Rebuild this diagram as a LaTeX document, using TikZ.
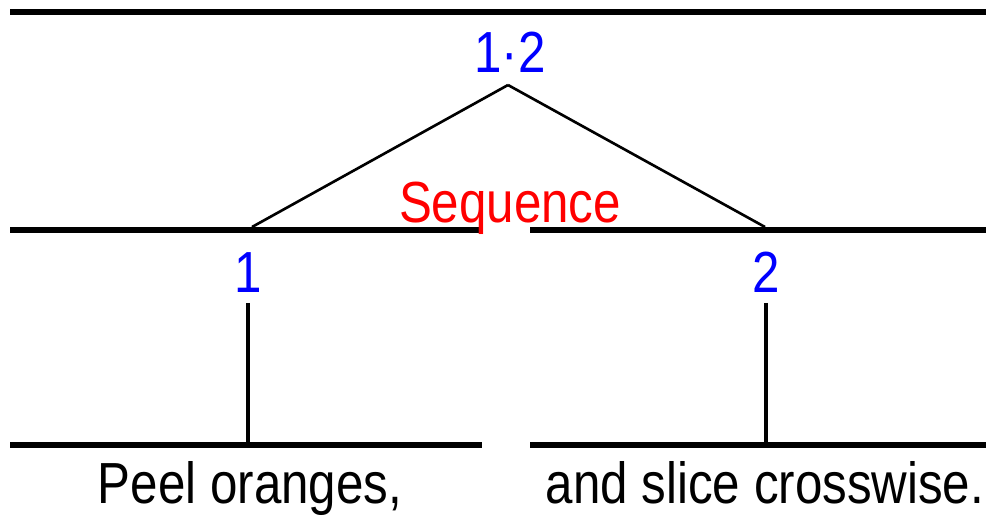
\documentclass[tikz,border=0pt]{standalone}
\usepackage{fontspec}
\setmainfont{Liberation Sans}
\newfontfamily\diafont[FakeStretch=0.85]{Liberation Sans}
\begin{document}
\begin{tikzpicture}[x=0.02cm, y=-0.02cm, line join=round,
  rule/.style={line width=2.9pt},
  arm/.style={line width=1.5pt},
  stem/.style={line width=1.8pt},
  lbl/.style={font=\diafont\fontsize{33}{33}\selectfont, inner sep=0pt, anchor=base}]
  \useasboundingbox (0,0) rectangle (986,515);
  % base lines
  \draw[rule] (10,12) -- (986,12);
  \draw[rule] (10,230) -- (480,230);
  \draw[rule] (530,230) -- (986,230);
  \draw[rule] (10,445) -- (482,445);
  \draw[rule] (530,445) -- (986,445);

  \node[lbl, text=blue] (top) at (510,72) {1·2};
  \node[lbl, text=red] (rel) at (510,222) {Sequence};
  \node[lbl, text=blue] (one) at (248,292) {1};
  \node[lbl, text=blue] (two) at (766,292) {2};
  \node[lbl] (txtA) at (250,503) {Peel oranges,};
  \node[lbl] (txtB) at (765,503) {and slice crosswise.};

  \coordinate (apex) at (508,85);
  \coordinate (armL) at (252,227);
  \coordinate (armR) at (765,227);
  \coordinate (footL) at (248,445);
  \coordinate (footR) at (766,445);

  \draw[arm] (apex) -- (armL);
  \draw[arm] (apex) -- (armR);
  \draw[stem] ([yshift=-6pt]one.south) -- (footL);
  \draw[stem] ([yshift=-6pt]two.south) -- (footR);
\end{tikzpicture}
\end{document}
